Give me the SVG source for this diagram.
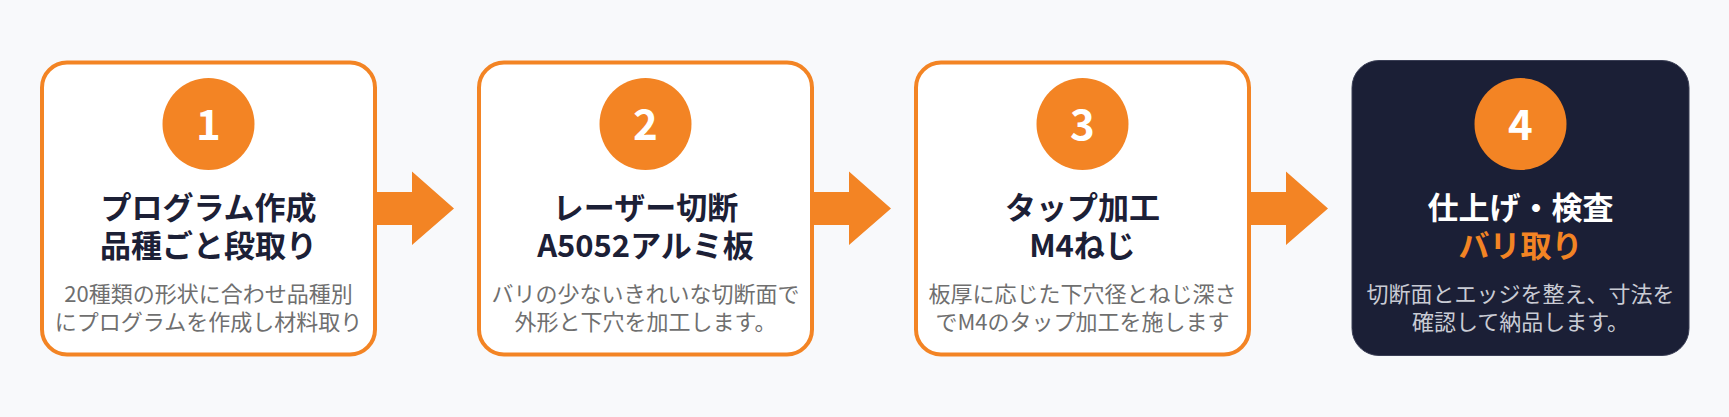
<svg xmlns="http://www.w3.org/2000/svg" width="1729" height="417" viewBox="0 0 1729 417">
<style>
.card{fill:#ffffff;stroke:#f38424;stroke-width:4}
.dark{fill:#1b1f36;stroke:#3a3e55;stroke-width:1}
.badge{fill:#f38424}
.num{font-family:"Noto Sans CJK JP","Noto Sans",sans-serif;font-weight:700;font-size:42px;fill:#ffffff;text-anchor:middle}
.title{font-family:"Noto Sans CJK JP",sans-serif;font-weight:700;font-size:31px;fill:#1c2036;text-anchor:middle}
.desc{font-family:"Noto Sans CJK JP",sans-serif;font-size:22px;fill:#6f6f6f;text-anchor:middle}
.tw{fill:#ffffff}
.to{fill:#f38424}
.dl{fill:#c9cbd4}
.arrow{fill:#f38424}
</style>
<rect x="0" y="0" width="1729" height="417" fill="#f8f9fb"/>
<g id="connectors">
<polygon class="arrow" points="377,192 412,192 412,171.5 454,208.5 412,245 412,225 377,225"/>
<polygon class="arrow" points="814,192 849,192 849,171.5 891,208.5 849,245 849,225 814,225"/>
<polygon class="arrow" points="1251,192 1286,192 1286,171.5 1328,208.5 1286,245 1286,225 1251,225"/>
</g>
<g id="node1">
<rect class="card" x="42" y="62.5" width="333" height="292" rx="25"/>
<circle class="badge" cx="208.5" cy="124" r="46"/>
<text class="num" x="208.5" y="140">1</text>
<text class="title" x="208.5" y="219">プログラム作成</text>
<text class="title" x="208.5" y="257">品種ごと段取り</text>
<text class="desc" x="208.5" y="302">20種類の形状に合わせ品種別</text>
<text class="desc" x="208.5" y="330">にプログラムを作成し材料取り</text>
</g>
<g id="node2">
<rect class="card" x="479" y="62.5" width="333" height="292" rx="25"/>
<circle class="badge" cx="645.5" cy="124" r="46"/>
<text class="num" x="645.5" y="140">2</text>
<text class="title" x="645.5" y="219">レーザー切断</text>
<text class="title" x="645.5" y="257">A5052アルミ板</text>
<text class="desc" x="645.5" y="302">バリの少ないきれいな切断面で</text>
<text class="desc" x="645.5" y="330">外形と下穴を加工します。</text>
</g>
<g id="node3">
<rect class="card" x="916" y="62.5" width="333" height="292" rx="25"/>
<circle class="badge" cx="1082.5" cy="124" r="46"/>
<text class="num" x="1082.5" y="140">3</text>
<text class="title" x="1082.5" y="219">タップ加工</text>
<text class="title" x="1082.5" y="257">M4ねじ</text>
<text class="desc" x="1082.5" y="302">板厚に応じた下穴径とねじ深さ</text>
<text class="desc" x="1082.5" y="330">でM4のタップ加工を施します</text>
</g>
<g id="node4">
<rect class="dark" x="1352" y="60.5" width="337" height="295" rx="27"/>
<circle class="badge" cx="1520.5" cy="124" r="46"/>
<text class="num" x="1520.5" y="140">4</text>
<text class="title tw" x="1520.5" y="219">仕上げ・検査</text>
<text class="title to" x="1520.5" y="257">バリ取り</text>
<text class="desc dl" x="1520.5" y="302">切断面とエッジを整え、寸法を</text>
<text class="desc dl" x="1520.5" y="330">確認して納品します。</text>
</g>
</svg>
